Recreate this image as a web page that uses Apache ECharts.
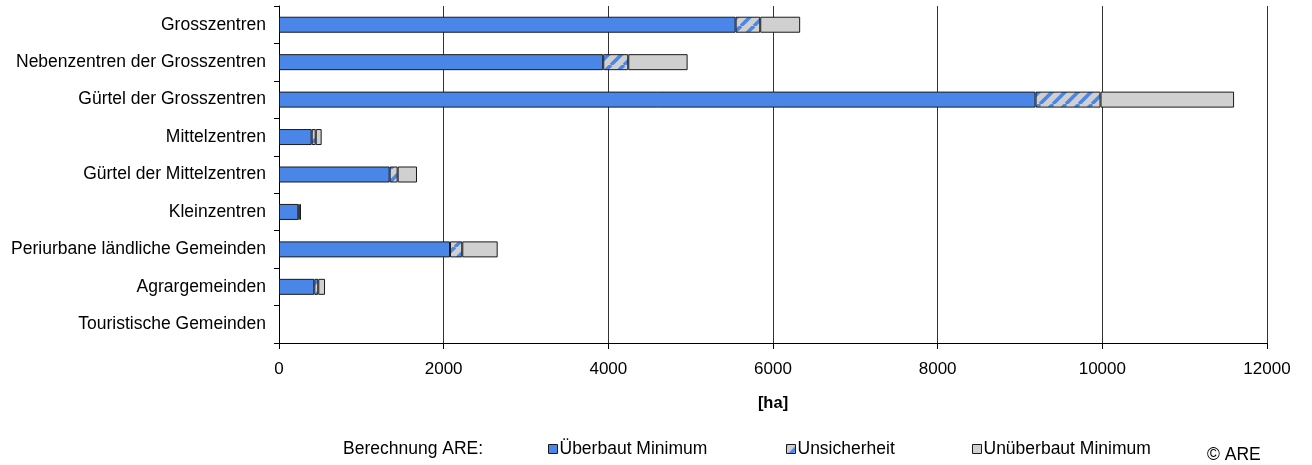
<!DOCTYPE html>
<html><head><meta charset="utf-8">
<script src="https://cdn.jsdelivr.net/npm/echarts@6/dist/echarts.min.js"></script>
<style>html,body{margin:0;padding:0;background:#fff}#c{width:1312px;height:465px}</style>
</head><body><div id="c"></div>
<script>
const categories = ["Grosszentren","Nebenzentren der Grosszentren","Gürtel der Grosszentren","Mittelzentren","Gürtel der Mittelzentren","Kleinzentren","Periurbane ländliche Gemeinden","Agrargemeinden","Touristische Gemeinden"];
const ueberbautMin = [5546, 3938, 9189, 397, 1344, 235, 2077, 429, 0];
const unsicherheit = [299, 304, 789, 49, 97, 15, 149, 48, 0];
const unueberbautMin = [485, 721, 1622, 72, 235, 17, 430, 82, 0];
const xTicks = [0, 2000, 4000, 6000, 8000, 10000, 12000];

const FONT = "'Liberation Sans', Arial, sans-serif";
const FS = 17.5;
const BLUE = '#4a86e8', GRAY = '#d0d0d0', EDGE = '#1a1a1a';

const pc = document.createElement('canvas');
pc.width = 13; pc.height = 13;
const g = pc.getContext('2d');
g.fillStyle = GRAY; g.fillRect(0,0,13,13);
g.strokeStyle = BLUE; g.lineWidth = 3.5;
for (const o of [-13, 0, 13]) { g.beginPath(); g.moveTo(o, 13); g.lineTo(o + 13, 0); g.stroke(); }
const hatch = { image: pc, repeat: 'repeat' };

const chart = echarts.init(document.getElementById('c'), null, {renderer:'canvas'});
const mk = (name, data, color) => ({
  name, type:'bar', stack:'a', data: data.map(v => v === 0 ? '-' : v), barWidth: 16,
  itemStyle:{ color, borderColor: EDGE, borderWidth: 1 },
  emphasis:{ disabled:true }
});
const legendBase = { orient:'horizontal', top: 435, itemWidth: 9, itemHeight: 9, icon:'rect', itemGap: 0,
  textStyle:{ fontFamily: FONT, fontSize: FS, color:'#000', padding:[0,0,0,-3] }, selectedMode:false,
  itemStyle:{ borderColor: EDGE, borderWidth: 1 } };
chart.setOption({
  animation:false,
  grid:{ left: 279, right: 45, top: 6, bottom: 122 },
  xAxis:{ type:'value', min: xTicks[0], max: xTicks[xTicks.length-1], interval: 2000,
    name:'[ha]', nameLocation:'middle', nameGap: 52,
    nameTextStyle:{ fontFamily: FONT, fontSize: FS - 1, fontWeight:'bold', color:'#000' },
    axisLine:{ show:true, lineStyle:{ color:'#000', width:1 } },
    axisTick:{ show:true, length:6, lineStyle:{ color:'#000' } },
    axisLabel:{ fontFamily: FONT, fontSize: FS - 0.5, color:'#000', margin: 18, formatter: v => String(v) },
    splitLine:{ show:true, lineStyle:{ color:'#333', width:1 } } },
  yAxis:{ type:'category', data: categories, inverse:true,
    axisLine:{ show:true, lineStyle:{ color:'#000', width:1 } },
    axisTick:{ show:true, length:5, lineStyle:{ color:'#000' } },
    axisLabel:{ fontFamily: FONT, fontSize: FS, color:'#000', margin: 13 } },
  legend:[
    Object.assign({}, legendBase, { left: 543, data:['Überbaut Minimum'] }),
    Object.assign({}, legendBase, { left: 781, data:['Unsicherheit'] }),
    Object.assign({}, legendBase, { left: 967, data:['Unüberbaut Minimum'] })
  ],
  graphic:[
    { type:'text', left: 343, top: 440, style:{ text:'Berechnung ARE:', font: FS + 'px ' + FONT, fill:'#000' } },
    { type:'text', left: 1207, top: 446, style:{ text:'© ARE', font: FS + 'px ' + FONT, fill:'#000' } }
  ],
  series:[
    mk('Überbaut Minimum', ueberbautMin, BLUE),
    mk('Unsicherheit', unsicherheit, hatch),
    mk('Unüberbaut Minimum', unueberbautMin, GRAY)
  ]
});
</script></body></html>
